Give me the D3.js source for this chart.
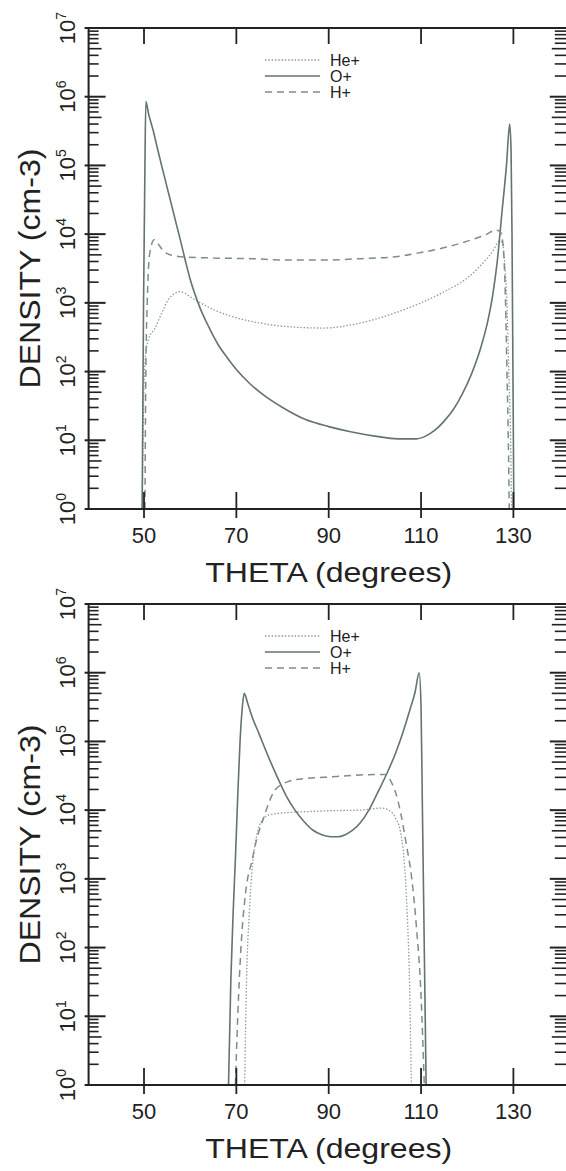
<!DOCTYPE html>
<html lang="en">
<head>
<meta charset="UTF-8">
<script src="https://d3js.org/d3.v7.min.js"></script>
<title>Density vs theta</title>
<style>
  body { margin: 0; background: #fff; }
  text { font-family: "Liberation Sans", Arial, sans-serif; fill: #222; }
</style>
</head>
<body>
<script>
// ---- data (theta in degrees, density in cm-3) ----
var xTicks = [50, 70, 90, 110, 130];
var yDecades = [0, 1, 2, 3, 4, 5, 6, 7];
var legendNames = ["He+", "O+", "H+"];

// upper panel
var topHe = [[49.6,1],[49.9,32],[50.3,160],[51,300],[52.3,420],[53.8,700],[55.4,1150],[57.8,1450],
  [60.9,1120],[65,800],[69.5,620],[75,510],[81.2,450],[89,430],[95,480],[100,575],[105,740],
  [110,1000],[115,1450],[120,2300],[123,3550],[125.5,5600],[127,7900],[127.6,7600],[128.2,3200],
  [128.6,1000],[129,100],[129.4,10],[129.6,1]];
var topO = [[49.6,1],[49.9,1e3],[50.2,1e5],[50.4,8.5e5],[51,5.6e5],[52,3.2e5],[53,1.66e5],[54,8.9e4],
  [55,4.8e4],[56,2.6e4],[57,1.4e4],[58,7.6e3],[59,4e3],[60,2.2e3],[62,890],[64,450],[66,250],
  [68,160],[70,107],[73,66],[76,45],[80,30],[85,20],[90,15.8],[95,13.2],[100,11.5],[105,10.5],
  [109,10.5],[111,11.5],[113,14],[115,19],[117,28],[119,48],[121,95],[123,230],[124.5,560],
  [125.6,1400],[126.5,4000],[127.5,2e4],[128.5,1e5],[129.2,4e5],[129.5,1.6e5],[129.7,1e4],
  [129.9,100],[130.1,1]];
var topH = [[50.2,1],[50.4,100],[50.7,1000],[51.2,5000],[52.2,8300],[53.2,7000],[54.5,5400],[57.8,4700],
  [65,4500],[73,4400],[81,4200],[89,4200],[97,4400],[104.5,4700],[110,5400],[116,6600],[121,8300],
  [124,9800],[126.3,1.15e4],[127.3,1.05e4],[127.9,5200],[128.3,1000],[128.6,100],[128.9,10],[129.1,1]];

// lower panel
var botHe = [[71.8,1],[72.2,32],[72.8,316],[73.5,1600],[74.5,4500],[75.5,7000],[77,8500],[80,9100],
  [85,9500],[90,9800],[96.8,1e4],[101.4,1.07e4],[103,1e4],[104.5,7600],[105.5,5000],[106.3,2000],
  [107,316],[107.5,32],[107.9,1]];
var botO = [[68.3,1],[68.8,32],[69.3,316],[69.8,2000],[70.3,1.6e4],[70.8,1e5],[71.3,3.2e5],[71.7,5e5],
  [72.5,3.5e5],[73.5,2.2e5],[74.9,1.3e5],[76.8,6.3e4],[78.8,3.1e4],[80.7,1.66e4],[82.7,1e4],[84.6,6900],
  [86.6,5100],[88.5,4400],[90.5,4100],[92,4100],[93.6,4400],[95.2,5100],[96.8,6500],[98.7,1e4],
  [100.6,1.8e4],[102.5,3.3e4],[104.5,6.8e4],[106,1.3e5],[107.6,2.9e5],[108.7,5.2e5],[109.6,1e6],
  [110,3.2e5],[110.3,1e4],[110.6,316],[110.9,10],[111.1,1]];
var botH = [[69.8,1],[70.3,10],[71,100],[72,630],[73.4,1860],[74.5,4000],[75.7,7000],[77,1.26e4],
  [78,1.8e4],[79.5,2.3e4],[81.2,2.6e4],[85,2.9e4],[89,3e4],[95,3.2e4],[100,3.3e4],[102.2,3.3e4],
  [103.5,2.6e4],[104.5,1.8e4],[105.6,9000],[106.8,3200],[108,1000],[109,200],[110,20],[110.7,1]];

// ---- layout ----
var width = 566, height = 1171;
var panels = [
  { top: 28, bottom: 509, series: [topHe, topO, topH] },
  { top: 604, bottom: 1085, series: [botHe, botO, botH] }
];
var styles = [
  { stroke: "#8c9c9c", width: 1.3, dash: "1.5,1.8" },
  { stroke: "#647272", width: 1.6, dash: null },
  { stroke: "#7d8d8d", width: 1.5, dash: "7,5" }
];

var svg = d3.select("body").append("svg")
  .attr("width", width)
  .attr("height", height);

var x = d3.scaleLinear().domain([38, 142]).range([88.6, 568.8]);

panels.forEach(function(p) {
  var y = d3.scaleLog().domain([1, 1e7]).range([p.bottom, p.top]);
  var g = svg.append("g");

  // curves
  var line = d3.line()
    .x(function(d) { return x(d[0]); })
    .y(function(d) { return y(d[1]); })
    .curve(d3.curveMonotoneX);

  p.series.forEach(function(s, i) {
    g.append("path")
      .datum(s)
      .attr("d", line)
      .attr("fill", "none")
      .attr("stroke", styles[i].stroke)
      .attr("stroke-width", styles[i].width)
      .attr("stroke-dasharray", styles[i].dash);
  });

  // frame
  var x0 = x.range()[0], x1 = x.range()[1];
  g.append("rect")
    .attr("x", x0).attr("y", p.top)
    .attr("width", x1 - x0).attr("height", p.bottom - p.top)
    .attr("fill", "none").attr("stroke", "#222").attr("stroke-width", 2);

  // log ticks on left and right
  var minor = [];
  for (var e = 0; e < 7; e++) {
    for (var k = 2; k <= 9; k++) minor.push(k * Math.pow(10, e));
  }
  minor.forEach(function(v) {
    var len = (v / Math.pow(10, Math.floor(Math.log10(v) + 1e-9)) == 5) ? 13 : 10;
    g.append("line").attr("x1", x0).attr("x2", x0 + len)
      .attr("y1", y(v)).attr("y2", y(v)).attr("stroke", "#222").attr("stroke-width", 1.6);
    g.append("line").attr("x1", x1).attr("x2", x1 - len - 4)
      .attr("y1", y(v)).attr("y2", y(v)).attr("stroke", "#222").attr("stroke-width", 1.6);
  });
  yDecades.forEach(function(e) {
    var v = Math.pow(10, e);
    g.append("line").attr("x1", x0 - 4).attr("x2", x0 + 17)
      .attr("y1", y(v)).attr("y2", y(v)).attr("stroke", "#222").attr("stroke-width", 2);
    g.append("line").attr("x1", x1).attr("x2", x1 - 19)
      .attr("y1", y(v)).attr("y2", y(v)).attr("stroke", "#222").attr("stroke-width", 2);

    var t = g.append("text")
      .attr("transform", "translate(75," + y(v) + ") rotate(-90)")
      .attr("text-anchor", "middle")
      .style("font-size", "22px");
    t.append("tspan").text("10");
    t.append("tspan").attr("dy", -9).style("font-size", "14px").text(e);
  });

  // x ticks, bottom and top
  xTicks.forEach(function(v) {
    g.append("line").attr("x1", x(v)).attr("x2", x(v))
      .attr("y1", p.bottom - 17).attr("y2", p.bottom + 9)
      .attr("stroke", "#222").attr("stroke-width", 1.8);
    g.append("line").attr("x1", x(v)).attr("x2", x(v))
      .attr("y1", p.top).attr("y2", p.top + 16)
      .attr("stroke", "#222").attr("stroke-width", 1.8);
    g.append("text")
      .attr("x", x(v)).attr("y", p.bottom + 34)
      .attr("text-anchor", "middle")
      .style("font-size", "22px")
      .text(v);
  });

  // axis titles
  g.append("text")
    .attr("x", x(90)).attr("y", p.bottom + 73)
    .attr("text-anchor", "middle")
    .attr("textLength", 247).attr("lengthAdjust", "spacingAndGlyphs")
    .style("font-size", "28px")
    .text("THETA (degrees)");
  g.append("text")
    .attr("transform", "translate(40," + (p.top + p.bottom) / 2 + ") rotate(-90)")
    .attr("text-anchor", "middle")
    .attr("textLength", 240).attr("lengthAdjust", "spacingAndGlyphs")
    .style("font-size", "29px")
    .text("DENSITY (cm-3)");

  // legend
  legendNames.forEach(function(name, i) {
    var ly = p.top + 32 + i * 16;
    g.append("line").attr("x1", 265).attr("x2", 320)
      .attr("y1", ly).attr("y2", ly)
      .attr("stroke", styles[i].stroke)
      .attr("stroke-width", styles[i].width)
      .attr("stroke-dasharray", styles[i].dash);
    g.append("text")
      .attr("x", 330).attr("y", ly + 6)
      .style("font-size", "16px")
      .text(name);
  });
});
</script>
</body>
</html>
